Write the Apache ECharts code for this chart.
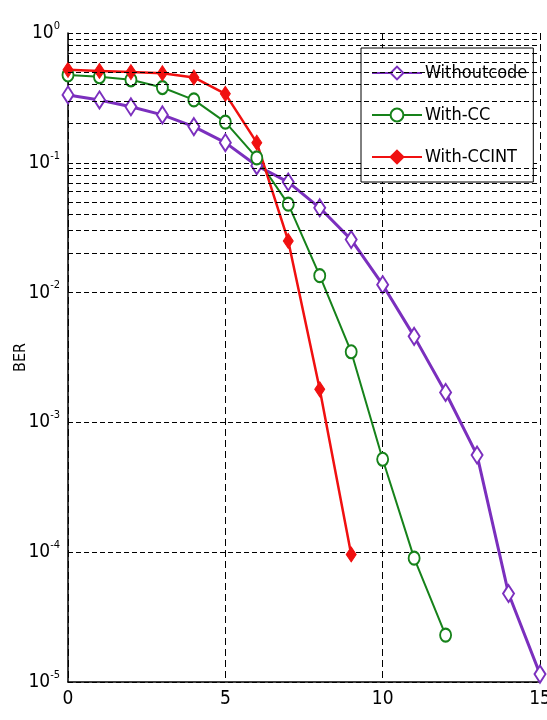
<!DOCTYPE html>
<html>
<head>
<meta charset="utf-8">
<script src="https://cdn.jsdelivr.net/npm/echarts@6/dist/echarts.min.js"></script>
<style>
  html, body { margin: 0; padding: 0; background: #fff; }
  #main { width: 547px; height: 720px; }
</style>
</head>
<body>
<div id="main"></div>
<script>
// SNR points (x axis)
var snr = [0, 1, 2, 3, 4, 5, 6, 7, 8, 9, 10, 11, 12, 13, 14, 15];

// BER curves
var berUncoded = [0.333, 0.305, 0.27, 0.234, 0.19, 0.143, 0.095, 0.071, 0.045, 0.0256, 0.0115, 0.0046, 0.0017, 5.6e-4, 4.8e-5, 1.15e-5];
var berCC = [0.475, 0.46, 0.436, 0.38, 0.305, 0.206, 0.109, 0.048, 0.0135, 0.0035, 5.2e-4, 9e-5, 2.3e-5];
var berCCINT = [0.52, 0.51, 0.5, 0.49, 0.455, 0.34, 0.143, 0.025, 0.0018, 9.6e-5];

var seriesNames = ['Withoutcode', 'With-CC', 'With-CCINT'];
var colors = ['#7B2FBE', '#16821A', '#F01010'];

// minor grid lines of the log axis (2..9 in every decade)
var mantissas = [2, 3, 4, 5, 6, 7, 8, 9];
var decades = [1e-5, 1e-4, 1e-3, 1e-2, 1e-1];

var font = '"Liberation Sans Narrow", "DejaVu Sans Condensed", "Liberation Sans", Arial, sans-serif';

function pairs(ys) {
  var out = [];
  for (var i = 0; i < ys.length; i++) {
    out.push([snr[i], ys[i]]);
  }
  return out;
}

var minorLines = [];
decades.forEach(function (d) {
  mantissas.forEach(function (m) {
    minorLines.push({ yAxis: +(m * d).toPrecision(3) });
  });
});

var myChart = echarts.init(document.getElementById('main'), null, { renderer: 'canvas' });

var dash = [5, 3];

var option = {
  animation: false,
  backgroundColor: '#fff',
  grid: { left: 68, right: 7, top: 33, bottom: 38, outerBoundsMode: 'none' },
  legend: {
    orient: 'vertical',
    left: 361,
    top: 48,
    padding: [16, 6, 16, 10],
    itemGap: 24,
    itemWidth: 50,
    itemHeight: 16,
    backgroundColor: '#fff',
    borderColor: '#000',
    borderWidth: 1,
    borderRadius: 0,
    data: seriesNames,
    textStyle: { fontFamily: font, fontSize: 18, color: '#000', padding: [0, 0, 0, -2] }
  },
  xAxis: {
    type: 'value',
    min: 0,
    max: 15,
    interval: 5,
    axisLine: { show: true, onZero: false, lineStyle: { color: '#000', width: 1.5 } },
    axisTick: { show: false },
    axisLabel: { fontFamily: font, fontSize: 19, color: '#000', margin: 8 },
    splitLine: { show: true, lineStyle: { color: '#000', type: [7, 4], width: 1 } }
  },
  yAxis: {
    type: 'log',
    logBase: 10,
    min: 1e-5,
    max: 1,
    name: 'BER',
    nameLocation: 'middle',
    nameGap: 39,
    nameMoveOverlap: false,
    nameTextStyle: { fontFamily: font, fontSize: 16, color: '#000' },
    axisLine: { show: true, lineStyle: { color: '#000', width: 1.5 } },
    axisTick: { show: false },
    axisLabel: {
      margin: 8,
      formatter: function (v) {
        return '{b|10}{s|' + Math.round(Math.log10(v)) + '}';
      },
      rich: {
        b: { fontFamily: font, fontSize: 19, color: '#000' },
        s: { fontFamily: font, fontSize: 11, color: '#000', padding: [0, 0, 14, 0] }
      }
    },
    splitLine: { show: true, lineStyle: { color: '#000', type: dash, width: 1 } }
  },
  series: [
    {
      name: '_grid',
      type: 'line',
      data: [],
      silent: true,
      markLine: {
        silent: true,
        symbol: ['none', 'none'],
        label: { show: false },
        lineStyle: { color: '#000', type: dash, width: 1 },
        data: minorLines
      }
    },
    {
      name: seriesNames[0],
      type: 'line',
      data: pairs(berUncoded),
      symbol: 'diamond',
      symbolSize: [11, 17],
      showAllSymbol: true,
      lineStyle: { color: colors[0], width: 3 },
      itemStyle: { color: '#fff', borderColor: colors[0], borderWidth: 2 }
    },
    {
      name: seriesNames[1],
      type: 'line',
      data: pairs(berCC),
      symbol: 'circle',
      symbolSize: [11, 13],
      lineStyle: { color: colors[1], width: 2 },
      itemStyle: { color: '#fff', borderColor: colors[1], borderWidth: 2 }
    },
    {
      name: seriesNames[2],
      type: 'line',
      data: pairs(berCCINT),
      symbol: 'diamond',
      symbolSize: [10, 15],
      lineStyle: { color: colors[2], width: 2.5 },
      itemStyle: { color: colors[2], borderColor: colors[2], borderWidth: 1 }
    }
  ]
};

myChart.setOption(option);
window.onresize = function () {
  myChart.resize();
};
</script>
</body>
</html>
